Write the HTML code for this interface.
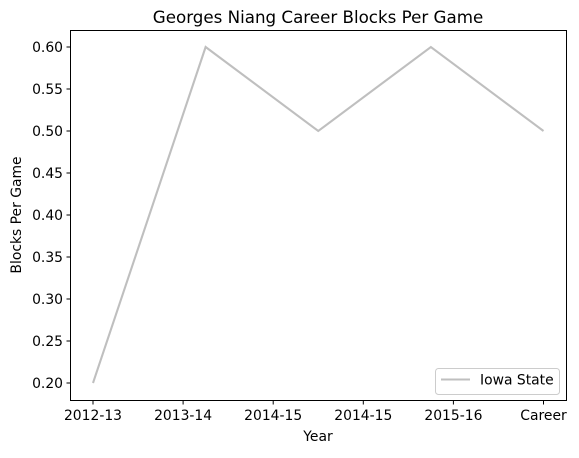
<!DOCTYPE html>
<html><head><meta charset="utf-8"><style>
body{margin:0;background:#fff}
svg text{font-family:"DejaVu Sans","Liberation Sans",sans-serif;fill:#000}
</style></head><body>
<svg width="579" height="453" xmlns="http://www.w3.org/2000/svg">
<text x="318" y="23" font-size="16.7" text-anchor="middle">Georges Niang Career Blocks Per Game</text>
<g id="ax"></g>
<rect x="70.5" y="30.5" width="496" height="370" fill="none" stroke="#000" stroke-width="1"/>
<text x="318" y="441" font-size="13.9" text-anchor="middle">Year</text>
<text transform="translate(21,215) rotate(-90)" font-size="13.9" text-anchor="middle">Blocks Per Game</text>
<g>
<rect x="435.5" y="368.5" width="124" height="26" rx="3" fill="#fff" stroke="#ccc"/>
<line x1="441" y1="379.5" x2="470" y2="379.5" stroke="#bfbfbf" stroke-width="2.1"/>
<text x="480" y="384.5" font-size="13.9">Iowa State</text>
</g>
</svg>
<script>
const values=[0.2,0.6,0.5,0.6,0.5];
const tickLabels=["2012-13","2013-14","2014-15","2014-15","2015-16","Career"];
const yTicks=[0.20,0.25,0.30,0.35,0.40,0.45,0.50,0.55,0.60];
const NS="http://www.w3.org/2000/svg";
const g=document.getElementById('ax');
const xs=i=>93+i*(543.5-93)/4;
const ys=v=>383-(v-0.2)*(383-47)/0.4;
function mk(t,a){const e=document.createElementNS(NS,t);for(const k in a)e.setAttribute(k,a[k]);g.appendChild(e);return e;}
yTicks.forEach(v=>{const y=ys(v);
const l=mk('line',{x1:66.5,x2:70.5,y1:y,y2:y,stroke:'#000'});


const t=mk('text',{x:63,y:y+5,'font-size':13.9,'text-anchor':'end'});t.textContent=v.toFixed(2);

});
tickLabels.forEach((s,i)=>{const x=xs(i*0.8);
const l=mk('line',{x1:x,x2:x,y1:400.5,y2:404.5,stroke:'#000'});


const t=mk('text',{x:x,y:420,'font-size':13.9,'text-anchor':'middle'});t.textContent=s;

});
const p=mk('polyline',{points:values.map((v,i)=>xs(i)+','+ys(v)).join(' '),fill:'none',stroke:'#bfbfbf','stroke-width':2.1});


</script>
</body></html>
